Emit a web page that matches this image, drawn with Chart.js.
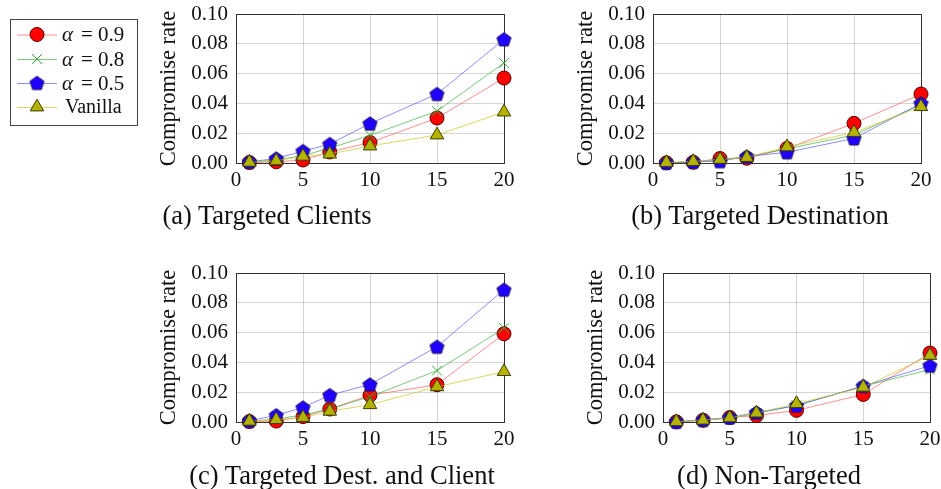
<!DOCTYPE html>
<html>
<head>
<meta charset="utf-8">
<script src="https://cdn.jsdelivr.net/npm/chart.js@4.4.1/dist/chart.umd.min.js"></script>
<style>
  html, body { margin: 0; padding: 0; background: #fff; }
  #wrap { position: relative; width: 941px; height: 489px; overflow: hidden; }
  #wrap canvas { position: absolute; left: 0; top: 0; width: 941px; height: 489px; }
  .cap { position: absolute; font-family: "Liberation Serif", serif; font-size: 26.5px; color: #111;
         white-space: nowrap; transform: translate(-50%, -50%); }
</style>
</head>
<body>
<div id="wrap">
  <canvas id="chartA" width="941" height="489"></canvas>
  <canvas id="chartB" width="941" height="489"></canvas>
  <canvas id="chartC" width="941" height="489"></canvas>
  <canvas id="chartD" width="941" height="489"></canvas>
  <div class="cap" style="left:267px; top:215px;">(a) Targeted Clients</div>
  <div class="cap" style="left:760px; top:215px;">(b) Targeted Destination</div>
  <div class="cap" style="left:342px; top:475px;">(c) Targeted Dest. and Client</div>
  <div class="cap" style="left:769px; top:475px;">(d) Non-Targeted</div>
</div>
<script>
// Number of clients / destinations on the x axis
const xValues = [1, 3, 5, 7, 10, 15, 20];
const xTicks = [0, 5, 10, 15, 20];
const yTicks = [0.00, 0.02, 0.04, 0.06, 0.08, 0.10];
const yTitle = 'Compromise rate';

// (a) Targeted Clients
const clientsA09 = [0.0003, 0.0008, 0.0020, 0.0074, 0.0137, 0.0302, 0.0570];
const clientsA08 = [0.0005, 0.0020, 0.0050, 0.0100, 0.0186, 0.0348, 0.0672];
const clientsA05 = [0.0008, 0.0030, 0.0080, 0.0127, 0.0265, 0.0463, 0.0830];
const clientsVan = [0.0005, 0.0014, 0.0045, 0.0060, 0.0114, 0.0188, 0.0342];

// (b) Targeted Destination
const destA09 = [0.0001, 0.0005, 0.0030, 0.0032, 0.0098, 0.0266, 0.0463];
const destA08 = [0.0002, 0.0008, 0.0022, 0.0042, 0.0095, 0.0188, 0.0392];
const destA05 = [0.0002, 0.0008, 0.0012, 0.0043, 0.0072, 0.0165, 0.0400];
const destVan = [0.0003, 0.0010, 0.0024, 0.0037, 0.0108, 0.0205, 0.0378];

// (c) Targeted Dest. and Client
const bothA09 = [0.0003, 0.0006, 0.0036, 0.0087, 0.0180, 0.0250, 0.0592];
const bothA08 = [0.0005, 0.0020, 0.0048, 0.0087, 0.0170, 0.0345, 0.0630];
const bothA05 = [0.0008, 0.0045, 0.0097, 0.0180, 0.0252, 0.0505, 0.0888];
const bothVan = [0.0005, 0.0016, 0.0030, 0.0072, 0.0116, 0.0236, 0.0338];

// (d) Non-Targeted
const nonA09 = [0.0001, 0.0012, 0.0030, 0.0043, 0.0078, 0.0185, 0.0463];
const nonA08 = [0.0002, 0.0012, 0.0026, 0.0058, 0.0112, 0.0240, 0.0352];
const nonA05 = [0.0002, 0.0014, 0.0030, 0.0064, 0.0110, 0.0242, 0.0378];
const nonVan = [0.0002, 0.0012, 0.0028, 0.0060, 0.0123, 0.0233, 0.0447];

const FONT = '"Liberation Serif", "Times New Roman", serif';

// Pentagon marker, drawn once and reused as a point style image
function makePentagon(r, fill, stroke) {
  const size = Math.ceil(r * 2 + 4);
  const c = document.createElement('canvas');
  c.width = size; c.height = size;
  const g = c.getContext('2d');
  const cx = size / 2, cy = size / 2 + 0.6;
  g.beginPath();
  for (let i = 0; i < 5; i++) {
    const a = -Math.PI / 2 + i * 2 * Math.PI / 5;
    const px = cx + r * Math.cos(a), py = cy + r * Math.sin(a);
    if (i === 0) g.moveTo(px, py); else g.lineTo(px, py);
  }
  g.closePath();
  g.fillStyle = fill; g.fill();
  g.lineWidth = 1; g.strokeStyle = stroke; g.stroke();
  return c;
}
const pentagon = makePentagon(7.4, '#2200ff', '#1a1a55');

// Series styling (legend order)
const seriesStyle = [
  { label: 'α = 0.9', line: 'rgba(255,70,70,0.6)',  fill: '#ff0000', stroke: '#5a0000', style: 'circle',   radius: 7 },
  { label: 'α = 0.8', line: 'rgba(40,160,40,0.6)',  fill: '#3aa83a', stroke: '#3aa83a', style: 'crossRot', radius: 7 },
  { label: 'α = 0.5', line: 'rgba(80,80,255,0.65)', fill: '#2200ff', stroke: '#1a1a55', style: pentagon,   radius: 7.4 },
  { label: 'Vanilla', line: 'rgba(200,200,40,0.7)', fill: '#b4b400', stroke: '#3d3d00', style: 'triangle', radius: 7.8 }
];

// Plot frame on all four sides
const framePlugin = {
  id: 'frame',
  beforeDatasetsDraw(chart) {
    const a = chart.chartArea, ctx = chart.ctx;
    ctx.save();
    ctx.strokeStyle = '#333';
    ctx.lineWidth = 1;
    ctx.strokeRect(Math.round(a.left) + 0.5, Math.round(a.top) + 0.5,
                   Math.round(a.right - a.left), Math.round(a.bottom - a.top));
    ctx.restore();
  }
};

function drawMarker(ctx, s, x, y) {
  ctx.save();
  if (s.style === pentagon) {
    ctx.drawImage(pentagon, x - pentagon.width / 2, y - pentagon.height / 2);
  } else if (Chart.helpers && Chart.helpers.drawPoint) {
    ctx.fillStyle = s.fill; ctx.strokeStyle = s.stroke; ctx.lineWidth = 1;
    Chart.helpers.drawPoint(ctx, { pointStyle: s.style, radius: s.radius, rotation: 0, borderWidth: 1 }, x, y);
  }
  ctx.restore();
}

// Legend box at the left of panel (a)
const legendRowY = [34.5, 59, 83, 107];
const legendPlugin = {
  id: 'sideLegend',
  afterDraw(chart) {
    const ctx = chart.ctx;
    ctx.save();
    ctx.strokeStyle = '#444'; ctx.lineWidth = 1;
    ctx.strokeRect(10.5, 19.5, 127, 106);
    seriesStyle.forEach((s, i) => {
      const y = legendRowY[i];
      ctx.strokeStyle = s.line; ctx.lineWidth = 1;
      ctx.beginPath(); ctx.moveTo(17, y + 0.5); ctx.lineTo(57, y + 0.5); ctx.stroke();
      drawMarker(ctx, s, 37, y);
      ctx.fillStyle = '#111';
      ctx.textBaseline = 'middle';
      if (s.label.startsWith('α')) {
        // symbol, relation and value set with math-style spacing
        const parts = s.label.split(' ');
        ctx.font = 'italic 21px ' + FONT;
        ctx.textAlign = 'left';
        ctx.fillText(parts[0], 62, y + 1);
        ctx.font = '21px ' + FONT;
        ctx.textAlign = 'center';
        ctx.fillText(parts[1], 87, y + 1);
        ctx.textAlign = 'left';
        ctx.fillText(parts[2], 98, y + 1);
      } else {
        ctx.font = '20px ' + FONT;
        ctx.textAlign = 'left';
        ctx.fillText(s.label, 65, y + 1);
      }
    });
    ctx.restore();
  }
};

const Y_AXIS_W = 80;
const X_AXIS_H = 40;

function makeChart(id, area, series, extra) {
  const datasets = series.map((vals, i) => {
    const s = seriesStyle[i];
    return {
      label: s.label,
      data: xValues.map((x, k) => ({ x: x, y: vals[k] })),
      borderColor: s.line,
      borderWidth: 1,
      pointStyle: s.style,
      pointRadius: s.radius,
      pointHoverRadius: s.radius,
      pointBackgroundColor: s.fill,
      pointBorderColor: s.stroke,
      pointBorderWidth: 1,
      tension: 0,
      clip: false,
      order: series.length - 1 - i
    };
  });
  return new Chart(document.getElementById(id), {
    type: 'line',
    data: { datasets },
    options: {
      responsive: false,
      animation: false,
      events: [],
      layout: {
        padding: {
          left: area.left - Y_AXIS_W,
          top: area.top,
          right: 941 - area.right,
          bottom: 489 - area.bottom - X_AXIS_H
        }
      },
      plugins: { legend: { display: false }, tooltip: { enabled: false } },
      scales: {
        x: {
          type: 'linear', min: 0, max: 20,
          afterFit(scale) {
            scale.height = X_AXIS_H;
            scale.paddingLeft = 0; scale.paddingRight = 0;
          },
          afterBuildTicks(scale) { scale.ticks = xTicks.map(v => ({ value: v })); },
          ticks: { color: '#111', padding: 5, maxRotation: 0, autoSkip: false,
                   font: { family: FONT, size: 21 } },
          grid: { color: 'rgba(0,0,0,0.17)', lineWidth: 1, drawTicks: false },
          border: { display: false }
        },
        y: {
          type: 'linear', min: 0, max: 0.1,
          afterFit(scale) {
            scale.width = Y_AXIS_W;
            scale.paddingTop = 0; scale.paddingBottom = 0;
          },
          afterBuildTicks(scale) { scale.ticks = yTicks.map(v => ({ value: v })); },
          ticks: { color: '#111', padding: 8, autoSkip: false,
                   font: { family: FONT, size: 21 },
                   callback: v => Number(v).toFixed(2) },
          grid: { color: 'rgba(0,0,0,0.17)', lineWidth: 1, drawTicks: false },
          border: { display: false },
          title: { display: true, text: yTitle, color: '#111', padding: 0,
                   font: { family: FONT, size: 22.5 } }
        }
      }
    },
    plugins: [framePlugin].concat(extra || [])
  });
}

makeChart('chartA', { left: 236, right: 504, top: 14, bottom: 163 },
          [clientsA09, clientsA08, clientsA05, clientsVan], [legendPlugin]);
makeChart('chartB', { left: 653, right: 921, top: 14, bottom: 163 },
          [destA09, destA08, destA05, destVan]);
makeChart('chartC', { left: 236, right: 504, top: 273, bottom: 422 },
          [bothA09, bothA08, bothA05, bothVan]);
makeChart('chartD', { left: 663, right: 930, top: 273, bottom: 422 },
          [nonA09, nonA08, nonA05, nonVan]);
</script>
</body>
</html>
